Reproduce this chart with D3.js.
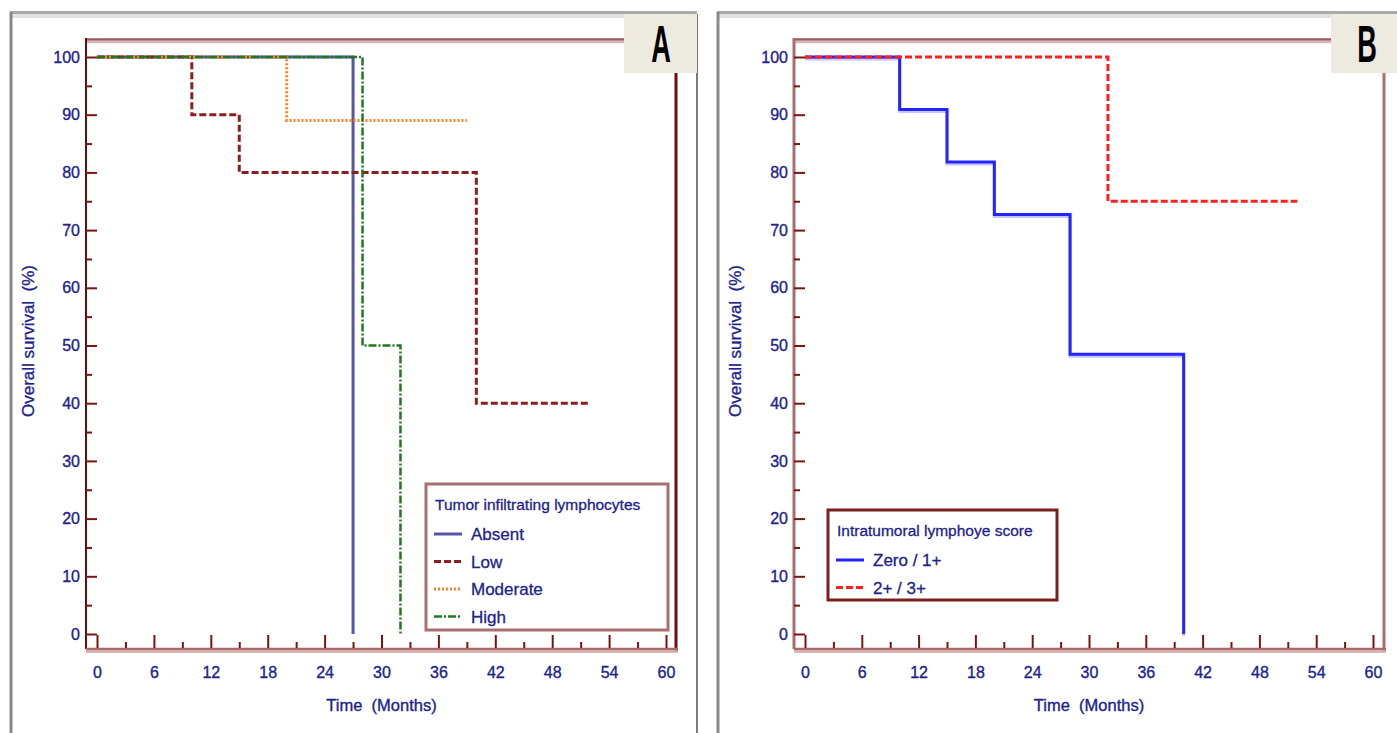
<!DOCTYPE html>
<html>
<head>
<meta charset="utf-8">
<script src="https://cdn.jsdelivr.net/npm/d3@7"></script>
<style>
  body { margin: 0; background: #fff; }
  svg { display: block; }
  text { font-family: "Liberation Sans Narrow", "Liberation Sans", Arial, sans-serif; }
</style>
</head>
<body>
<svg id="chart" width="1397" height="733"></svg>
<script>
// ---- data ----
const monthTicks = [0, 6, 12, 18, 24, 30, 36, 42, 48, 54, 60];
const survivalTicks = [0, 10, 20, 30, 40, 50, 60, 70, 80, 90, 100];

// panel A : tumor infiltrating lymphocytes (step points: month, survival %)
const absentMonths = [0, 27];
const absentSurv = [100, 0];
const lowMonths = [0, 10, 15, 40, 52];
const lowSurv = [100, 90, 80, 40, 40];
const moderateMonths = [0, 20, 39];
const moderateSurv = [100, 89, 89];
const highMonths = [0, 28, 32];
const highSurv = [100, 50, 0];

// panel B : intratumoral lymphocyte score
const zeroMonths = [0, 10, 15, 20, 28, 40];
const zeroSurv = [100, 90.9, 81.8, 72.7, 48.5, 0];
const twoMonths = [0, 32, 52];
const twoSurv = [100, 75, 75];

const zip = (m, s) => m.map((t, i) => ({ t, s: s[i] }));

const svg = d3.select("#chart");
const navy = "#22228c";

function drawPanel(p) {
    const g = svg.append("g");

    // outer panel border
    g.append("rect").attr("x", p.outer[0]).attr("y", 14).attr("width", p.outer[1] - p.outer[0]).attr("height", 4).attr("fill", "#e2e2e2");
    g.append("line").attr("x1", p.outer[0]).attr("x2", p.outer[1]).attr("y1", 12.5).attr("y2", 12.5)
        .attr("stroke", "#aaaaaa").attr("stroke-width", 3);
    g.append("line").attr("x1", p.outer[0] + 1).attr("x2", p.outer[0] + 1).attr("y1", 12).attr("y2", 733)
        .attr("stroke", "#888").attr("stroke-width", 3);
    if (p.outerRight) {
        g.append("line").attr("x1", p.outerRight).attr("x2", p.outerRight).attr("y1", 14).attr("y2", 733)
            .attr("stroke", "#7a7a7a").attr("stroke-width", 2);
    }

    const x = d3.scaleLinear().domain([0, 60]).range(p.xRange);
    const y = d3.scaleLinear().domain([0, 100]).range([634, 57]);

    // plot frame
    const f = p.frame; // [left, top, right, bottom]
    g.append("line").attr("x1", f[0]).attr("x2", p.boxX).attr("y1", 39.5).attr("y2", 39.5)
        .attr("stroke", "#955a5a").attr("stroke-width", 2.5);
    g.append("line").attr("x1", f[0]).attr("x2", p.boxX).attr("y1", 42).attr("y2", 42)
        .attr("stroke", "#d6b6b6").attr("stroke-width", 2.5);
    g.append("line").attr("x1", f[0]).attr("x2", f[0]).attr("y1", 38).attr("y2", f[3])
        .attr("stroke", p.leftColor).attr("stroke-width", p.leftWidth);
    g.append("line").attr("x1", f[2]).attr("x2", f[2]).attr("y1", 73).attr("y2", f[3] + 2)
        .attr("stroke", p.rightColor).attr("stroke-width", 3);
    g.append("line").attr("x1", f[0]).attr("x2", f[2] + 2).attr("y1", f[3]).attr("y2", f[3])
        .attr("stroke", "#a86a6a").attr("stroke-width", 2.5);
    g.append("line").attr("x1", f[0]).attr("x2", f[2] + 2).attr("y1", f[3] + 2.5).attr("y2", f[3] + 2.5)
        .attr("stroke", "#d2aaaa").attr("stroke-width", 2.5);

    // letter box
    g.append("rect").attr("x", p.boxX).attr("y", 14).attr("width", p.outer[1] - p.boxX).attr("height", 59)
        .attr("fill", "#edebe0");
    g.append("text").attr("transform", `translate(${p.letterX},62) scale(0.8,1.5)`)
        .attr("text-anchor", "middle").attr("font-size", 34).attr("font-weight", "bold")
        .attr("fill", "#000").style("font-family", "Liberation Sans, Arial, sans-serif").text(p.letter);

    // x axis (ticks pointing up from the bottom line)
    g.append("g").attr("transform", `translate(0,${f[3] - 1})`)
        .call(d3.axisBottom(x).tickValues(monthTicks).tickSize(-13).tickPadding(19));
    g.append("g").attr("transform", `translate(0,${f[3] - 1})`)
        .call(d3.axisBottom(x).tickValues(d3.range(3, 60, 6)).tickSize(-6).tickFormat(""));

    // y axis (ticks pointing right from the left line)
    g.append("g").attr("transform", `translate(${f[0]},0)`)
        .call(d3.axisLeft(y).tickValues(survivalTicks).tickSize(-11).tickPadding(6));
    g.append("g").attr("transform", `translate(${f[0]},0)`)
        .call(d3.axisLeft(y).tickValues(d3.range(5, 100, 10)).tickSize(-6).tickFormat(""));

    g.selectAll(".domain").remove();
    g.selectAll(".tick line").attr("stroke", "#7a1414").attr("stroke-width", 2);
    g.selectAll(".tick text").attr("fill", navy).attr("font-size", 16)
        .attr("stroke", navy).attr("stroke-width", 0.35)
        .style("font-family", "Liberation Sans Narrow, Arial, sans-serif");

    // axis titles
    g.append("text").attr("x", (p.xRange[0] + p.xRange[1]) / 2).attr("y", 711)
        .attr("text-anchor", "middle").attr("font-size", 16.5).attr("fill", navy)
        .attr("stroke", navy).attr("stroke-width", 0.35)
        .attr("xml:space", "preserve").text("Time  (Months)");
    g.append("text").attr("transform", `translate(${p.yTitleX},341) rotate(-90)`)
        .attr("text-anchor", "middle").attr("font-size", 17).attr("fill", navy)
        .attr("stroke", navy).attr("stroke-width", 0.35)
        .attr("xml:space", "preserve").text("Overall survival  (%)");

    // survival curves
    const line = d3.line().x(d => x(d.t)).y(d => y(d.s)).curve(d3.curveStepAfter);
    p.series.forEach(s => {
        if (s.shadow) {
            g.append("path").datum(s.data).attr("fill", "none").attr("stroke", s.shadow)
                .attr("stroke-width", s.width).attr("transform", "translate(0,2)").attr("d", line);
        }
        g.append("path").datum(s.data).attr("fill", "none").attr("stroke", s.color)
            .attr("stroke-width", s.width).attr("stroke-dasharray", s.dash).attr("d", line);
    });

    // legend
    const L = p.legend;
    g.append("rect").attr("x", L.x).attr("y", L.y).attr("width", L.w).attr("height", L.h)
        .attr("fill", "#fff").attr("stroke", L.stroke).attr("stroke-width", 3);
    g.append("text").attr("x", L.x + 9).attr("y", L.y + 26).attr("font-size", 15.5)
        .attr("fill", navy).attr("stroke", navy).attr("stroke-width", 0.3).text(L.title);
    p.series.forEach((s, i) => {
        const yy = L.y + 50 + i * L.step;
        g.append("line").attr("x1", L.x + 8).attr("x2", L.x + 36).attr("y1", yy).attr("y2", yy)
            .attr("stroke", s.color).attr("stroke-width", s.width).attr("stroke-dasharray", s.dash);
        g.append("text").attr("x", L.x + 45).attr("y", yy + 6).attr("font-size", 17)
            .attr("fill", navy).attr("stroke", navy).attr("stroke-width", 0.3)
            .attr("xml:space", "preserve").text(s.name);
    });
}

drawPanel({
    outer: [10, 697], outerRight: 697,
    frame: [86, 40, 676, 649],
    leftColor: "#6b0a0a", leftWidth: 2, rightColor: "#6b1010",
    boxX: 624, letter: "A", letterX: 661,
    xRange: [97, 666], yTitleX: 34,
    series: [
        { name: "Absent", data: zip(absentMonths, absentSurv), color: "#5555aa", width: 3, dash: null },
        { name: "Low", data: zip(lowMonths, lowSurv), color: "#8b1e1e", width: 3, dash: "7,3" },
        { name: "Moderate", data: zip(moderateMonths, moderateSurv), color: "#ff7f24", width: 3, dash: "2,2" },
        { name: "High", data: zip(highMonths, highSurv), color: "#1f7a1f", width: 2.5, dash: "8,2,2,2" }
    ],
    legend: { x: 426, y: 484, w: 242, h: 146, step: 27.5, stroke: "#a87070", title: "Tumor infiltrating lymphocytes" }
});

drawPanel({
    outer: [717, 1397], outerRight: null,
    frame: [794, 40, 1384, 649],
    leftColor: "#a86e6e", leftWidth: 3, rightColor: "#a87070",
    boxX: 1331, letter: "B", letterX: 1367,
    xRange: [805, 1373], yTitleX: 741,
    series: [
        { name: "Zero / 1+", data: zip(zeroMonths, zeroSurv), color: "#2424ff", width: 3, dash: null, shadow: "#c4c4ff" },
        { name: "2+ / 3+", data: zip(twoMonths, twoSurv), color: "#ff1e1e", width: 3, dash: "7,3" }
    ],
    legend: { x: 828, y: 510, w: 229, h: 90, step: 27.5, stroke: "#7a2020", title: "Intratumoral lymphoye score" }
});
</script>
</body>
</html>
